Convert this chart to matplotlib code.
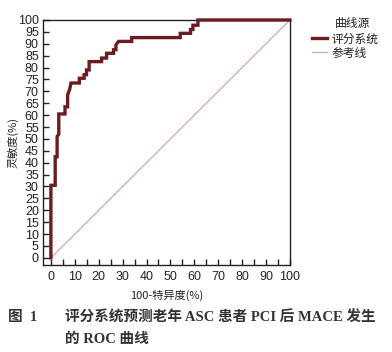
import matplotlib
matplotlib.use("Agg")
import matplotlib.pyplot as plt
from matplotlib.lines import Line2D

# ROC curve (100-specificity, sensitivity), in %
fpr = [0, 0, 1.8, 1.8, 2.6, 2.6, 3.3, 3.3, 5.9, 5.9, 7.0, 7.0, 7.9, 8.4, 11.9, 11.9,
       13.9, 13.9, 14.9, 14.9, 16.0, 16.0, 21.2, 21.2, 23.3, 23.3, 26.2, 26.2, 27.2,
       27.2, 28.3, 33.8, 33.8, 54.1, 54.1, 58.4, 58.4, 59.4, 59.4, 61.5, 61.5, 100]
tpr = [0, 30.5, 30.5, 42.5, 42.5, 51, 52, 60.5, 60.5, 63.5, 63.5, 68.5, 71, 73.5, 73.5,
       75.5, 75.5, 77, 77, 79, 79, 82.5, 82.5, 84, 84, 86, 86, 87.5, 87.5, 89.5, 91, 91,
       92.6, 92.6, 94.4, 94.4, 96, 96, 97.8, 97.8, 100, 100]
ref_x = [0, 100]
ref_y = [0, 100]
ticks = list(range(0, 101, 5))
xticklabels = [str(t) if t % 10 == 0 else "" for t in ticks]
yticklabels = [str(t) for t in ticks]

cjk = ['Noto Sans CJK SC', 'DejaVu Sans']
latin_sans = ['Liberation Sans', 'Noto Sans CJK SC']

fig = plt.figure(figsize=(3.92, 3.52), dpi=100)
ax = fig.add_axes([0.1097, 0.2472, 0.630, 0.696])

roc_color = '#6b1c20'
ref_color = '#d9a3ab'
ax.plot(ref_x, ref_y, color=ref_color, lw=0.9, zorder=2)
ax.plot(fpr, tpr, color=roc_color, lw=2.4, zorder=3, clip_on=False,
        solid_joinstyle='miter')

ax.set_xlim(-3.3, 100)
ax.set_ylim(-3.0, 100)
ax.set_xticks(ticks)
ax.set_xticklabels(xticklabels, family=latin_sans, fontsize=9, color='#222222')
ax.set_yticks(ticks)
ax.set_yticklabels(yticklabels, family=latin_sans, fontsize=9, color='#222222')
ax.tick_params(direction='in', length=4, width=1, color='#222222')
ax.tick_params(axis='x', pad=4)
ax.tick_params(axis='y', pad=3)
for s in ax.spines.values():
    s.set_color('#222222')
    s.set_linewidth(1.0)

ax.set_xlabel('100-特异度(%)', family=cjk, fontsize=8, color='#222222', labelpad=5)
ax.set_ylabel('灵敏度(%)', family=cjk, fontsize=8, color='#222222')
ax.yaxis.set_label_coords(-0.100, 0.5)

# legend
handles = [Line2D([], [], color=roc_color, lw=2.4),
           Line2D([], [], color=ref_color, lw=0.9)]
leg = fig.legend(handles, ['评分系统', '参考线'], loc='upper left',
                 bbox_to_anchor=(0.795, 0.908), frameon=False,
                 prop={'family': cjk, 'size': 8.5}, handlelength=1.3,
                 handletextpad=0.4, labelspacing=0.1, borderaxespad=0, borderpad=0)
for t in leg.get_texts():
    t.set_color('#222222')
fig.text(0.853, 0.915, '曲线源', family=cjk, fontsize=8.5, color='#222222',
         ha='left', va='bottom')

# caption
cap_font = ['Liberation Serif', 'Noto Sans CJK SC']
fig.text(0.02, 1 - 318 / 352, '图  1', family=cap_font, fontsize=10.5,
         fontweight='bold', color='#333333', va='center')
fig.text(0.166, 1 - 318 / 352, '评分系统预测老年 ASC 患者 PCI 后 MACE 发生',
         family=cap_font, fontsize=10.5, fontweight='bold', color='#333333', va='center')
fig.text(0.166, 1 - 339 / 352, '的 ROC 曲线',
         family=cap_font, fontsize=10.5, fontweight='bold', color='#333333', va='center')

fig.savefig('out.png', dpi=100, facecolor='white')
